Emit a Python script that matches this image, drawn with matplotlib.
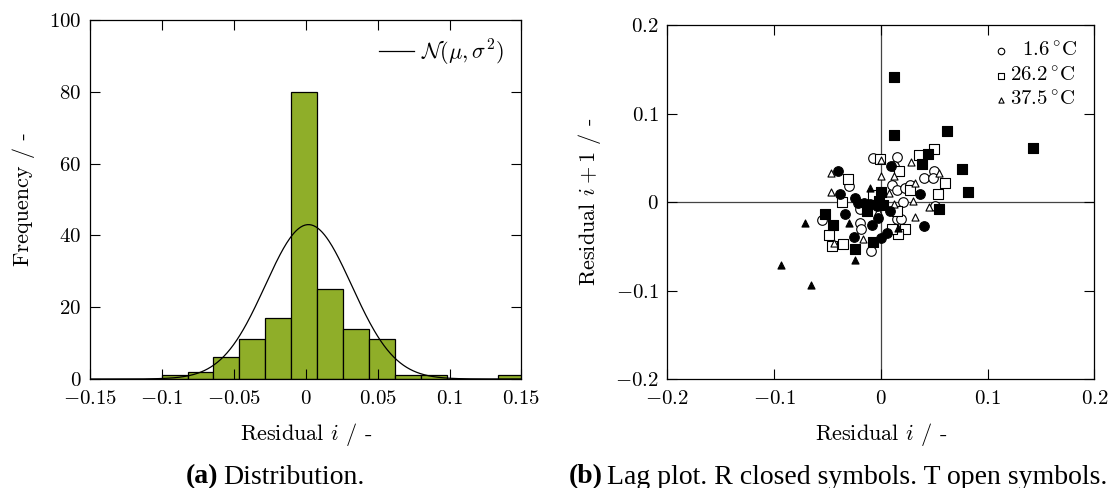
import matplotlib
matplotlib.use("Agg")
import matplotlib.pyplot as plt
import numpy as np
from matplotlib.ticker import FuncFormatter

plt.rcParams["font.family"] = "serif"
plt.rcParams["font.serif"] = ["cmr10"]
plt.rcParams["mathtext.fontset"] = "cm"
plt.rcParams["axes.formatter.use_mathtext"] = True

# histogram of residuals
bin_edges = np.round(-0.1 + 0.018 * np.arange(15), 3)
counts = [1, 2, 6, 11, 17, 80, 25, 14, 11, 1, 1, 0, 0, 1]
norm_mu = 0.002
norm_sigma = 0.030
norm_peak = 43

# lag plot: R = closed, T = open
r_circ_x = [-0.0397, -0.038, -0.034, -0.024, -0.021, -0.0256, -0.0084, -0.0022, 0.0094, 0.0363,
            0.0406, 0.0, 0.0056, 0.0088, -0.0156, -0.010, -0.004]
r_circ_y = [0.0353, 0.009, -0.0128, 0.0045, -0.001, -0.0395, -0.0256, -0.0173, 0.0414, 0.0094,
            -0.0267, -0.0406, -0.035, -0.0094, -0.0011, -0.0019, -0.004]
r_sq_x = [0.0119, 0.0119, 0.0619, 0.1425, 0.0438, 0.0388, 0.0759, 0.0816, 0.0544, -0.0522,
          -0.0444, -0.0241, -0.0069, -0.0125, 0.0, -0.002, 0.002]
r_sq_y = [0.1417, 0.0759, 0.0808, 0.0617, 0.0541, 0.0432, 0.038, 0.0113, -0.0075, -0.0135,
          -0.0256, -0.053, -0.0444, -0.0105, 0.011, 0.001, -0.003]
r_tri_x = [-0.0938, -0.0653, -0.0706, -0.0294, -0.0241, -0.0106, 0.0159, 0.0]
r_tri_y = [-0.0707, -0.0932, -0.0237, -0.0237, -0.065, 0.0158, -0.0286, 0.012]

t_circ_x = [-0.0069, -0.0006, 0.015, -0.0294, -0.0547, -0.0194, -0.0188, -0.0091, 0.0103, 0.015,
            0.0228, 0.0275, 0.0206, 0.015, 0.019, 0.0144, 0.040, 0.0494, 0.0488, 0.051,
            -0.0194, 0.0125]
t_circ_y = [0.0496, 0.0489, 0.0515, 0.0184, -0.020, -0.023, -0.0305, -0.0556, 0.0195, 0.0132,
            0.0158, 0.0195, 0.0, -0.0192, -0.0192, -0.0094, 0.027, 0.0357, 0.0278, -0.0038,
            -0.0075, 0.0414]
t_sq_x = [-0.0303, -0.0366, -0.0484, -0.0456, -0.035, 0.0494, 0.0353, 0.0166, 0.0603, 0.0534,
          0.0228, 0.0159, 0.0103, -0.0075, 0.0275, -0.0006, 0.015]
t_sq_y = [0.0263, 0.0, -0.0376, -0.0492, -0.047, 0.0598, 0.0534, 0.0353, 0.0214, 0.009,
          -0.0305, -0.0361, -0.0305, 0.0083, 0.0139, 0.0489, -0.0094]
t_tri_x = [-0.0466, -0.0469, -0.0438, -0.0169, 0.0, 0.0119, 0.0281, 0.0322, 0.0541, 0.0297,
           0.0322, 0.0447, 0.0, 0.0072, 0.0119, -0.0031]
t_tri_y = [0.0335, 0.012, -0.0462, -0.0417, 0.029, 0.0297, 0.0459, 0.0214, 0.0327, 0.0008,
           -0.0162, -0.0056, 0.0477, 0.0109, -0.0019, -0.0094]

legend_labels = [r"$\ \ 1.6\,^{\circ}\mathrm{C}$", r"$26.2\,^{\circ}\mathrm{C}$", r"$37.5\,^{\circ}\mathrm{C}$"]

tick_fmt = FuncFormatter(lambda v, p: "$%g$" % round(v, 4))
FS = 15
LFS = 16

fig = plt.figure(figsize=(11.1, 4.88), dpi=100)
ax1 = fig.add_axes([0.0808, 0.2234, 0.389, 0.7357])
ax2 = fig.add_axes([0.6012, 0.2227, 0.3847, 0.726])

for ax in (ax1, ax2):
    ax.tick_params(direction="in", top=True, right=True, labelsize=FS, length=7, width=0.8, pad=6)
    ax.tick_params(axis="x", pad=8)
    ax.xaxis.set_major_formatter(tick_fmt)
    ax.yaxis.set_major_formatter(tick_fmt)
    for s in ax.spines.values():
        s.set_linewidth(0.9)

# (a) histogram
bw = bin_edges[1] - bin_edges[0]
ax1.bar(bin_edges[:-1], counts, width=bw, align="edge", color="#8fae29",
        edgecolor="black", linewidth=0.9)
xs = np.linspace(-0.15, 0.15, 400)
ax1.plot(xs, norm_peak * np.exp(-0.5 * ((xs - norm_mu) / norm_sigma) ** 2),
         color="black", lw=0.9, label=r"$\mathcal{N}(\mu,\sigma^2)$")
ax1.set_xlim(-0.15, 0.15)
ax1.set_ylim(0, 100)
ax1.set_xticks(np.arange(-0.15, 0.151, 0.05))
ax1.set_yticks(np.arange(0, 101, 20))
ax1.set_xlabel(r"Residual $i$ / -", fontsize=LFS, labelpad=9)
ax1.set_ylabel("Frequency / -", fontsize=LFS, labelpad=10)
ax1.legend(loc="upper right", frameon=False, fontsize=LFS, handlelength=1.6,
           handletextpad=0.3, borderaxespad=0.4)

# (b) lag plot
ax2.axhline(0, color="#444444", lw=0.9, zorder=1)
ax2.axvline(0, color="#444444", lw=0.9, zorder=1)
ms = dict(edgecolors="black", linewidths=0.8, zorder=3)
ax2.scatter(t_circ_x, t_circ_y, marker="o", s=48, facecolors="white", **ms)
ax2.scatter(t_sq_x, t_sq_y, marker="s", s=42, facecolors="white", **ms)
ax2.scatter(t_tri_x, t_tri_y, marker="^", s=26, facecolors="white", **ms)
ax2.scatter(r_circ_x, r_circ_y, marker="o", s=48, facecolors="black", **ms)
ax2.scatter(r_sq_x, r_sq_y, marker="s", s=42, facecolors="black", **ms)
ax2.scatter(r_tri_x, r_tri_y, marker="^", s=26, facecolors="black", **ms)

h1 = ax2.scatter([], [], marker="o", s=22, facecolors="white", edgecolors="black", linewidths=0.8)
h2 = ax2.scatter([], [], marker="s", s=22, facecolors="white", edgecolors="black", linewidths=0.8)
h3 = ax2.scatter([], [], marker="^", s=14, facecolors="white", edgecolors="black", linewidths=0.8)
ax2.legend([h1, h2, h3], legend_labels, loc="upper right", frameon=False, fontsize=FS,
           handletextpad=0.05, handlelength=0.8, labelspacing=0.25, borderaxespad=0.4)
ax2.set_xlim(-0.2, 0.2)
ax2.set_ylim(-0.2, 0.2)
ax2.set_xticks(np.arange(-0.2, 0.201, 0.1))
ax2.set_yticks(np.arange(-0.2, 0.201, 0.1))
ax2.set_xlabel(r"Residual $i$ / -", fontsize=LFS, labelpad=9)
ax2.set_ylabel(r"Residual $i+1$ / -", fontsize=LFS, labelpad=9)

# captions: bold tag + plain text, centred as a group
renderer = fig.canvas.get_renderer()
W = fig.bbox.width
cap_kw = dict(family="Liberation Serif", fontsize=20, va="baseline", ha="left")


def caption(cx, tag, rest, y=0.009):
    t1 = fig.text(0, y, tag, weight="bold", **cap_kw)
    t2 = fig.text(0, y, rest, **cap_kw)
    w1 = t1.get_window_extent(renderer).width
    w2 = t2.get_window_extent(renderer).width
    gap = 5
    x0 = cx - (w1 + gap + w2) / 2
    t1.set_x(x0 / W)
    t2.set_x((x0 + w1 + gap) / W)


caption(275, "(a)", "Distribution.")
caption(838, "(b)", "Lag plot. R closed symbols. T open symbols.")

fig.savefig("out.png", dpi=100)
